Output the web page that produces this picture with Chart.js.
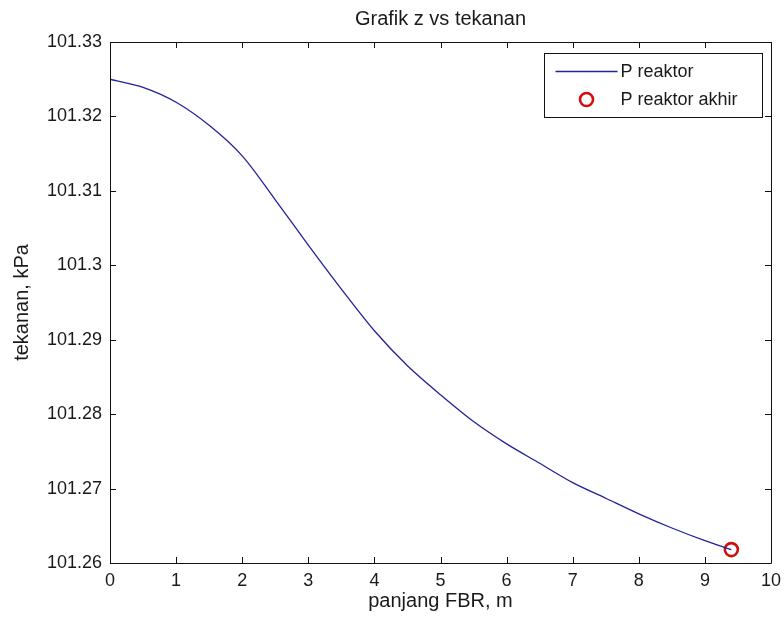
<!DOCTYPE html>
<html>
<head>
<meta charset="utf-8">
<script src="https://cdn.jsdelivr.net/npm/chart.js@4/dist/chart.umd.min.js"></script>
<style>
  html, body { margin: 0; padding: 0; background: #fff; }
  #wrap { width: 784px; height: 625px; }
</style>
</head>
<body>
<div id="wrap"><canvas id="c" width="784" height="625"></canvas></div>
<script>
const positionZ = [0, 0.5, 1, 1.5, 2, 2.5, 3, 3.5, 4, 4.5, 5, 5.5, 6, 6.5, 7, 7.5, 8, 8.5, 9, 9.4];
const pressureReactor = [101.3250, 101.3239, 101.3219, 101.3188, 101.3147, 101.3088, 101.3027, 101.2968, 101.2912, 101.2865, 101.2826, 101.2790, 101.2760, 101.2734, 101.2708, 101.2687, 101.2666, 101.2647, 101.2630, 101.2618];
const finalPosition = [9.4];
const finalPressure = [101.2618];
const xTicks = [0, 1, 2, 3, 4, 5, 6, 7, 8, 9, 10];
const yTicks = [101.26, 101.27, 101.28, 101.29, 101.30, 101.31, 101.32, 101.33];
const chartTitle = 'Grafik z vs tekanan';

const FONT = "'Liberation Sans', Arial, sans-serif";
const TXT = '#1a1a1a';

const lineData = positionZ.map((x, i) => ({ x: x, y: pressureReactor[i] }));
const endData = finalPosition.map((x, i) => ({ x: x, y: finalPressure[i] }));

const boxPlugin = {
  id: 'matlabBox',
  afterDatasetsDraw(chart) {
    const { ctx, chartArea: a, scales } = chart;
    const tl = 6;
    ctx.save();
    ctx.fillStyle = TXT;
    ctx.font = '20px ' + FONT;
    ctx.textAlign = 'center';
    ctx.textBaseline = 'middle';
    ctx.fillText(chartTitle, (a.left + a.right) / 2, a.top - 23);

    ctx.strokeStyle = '#111';
    ctx.lineWidth = 1;
    ctx.beginPath();
    ctx.rect(Math.round(a.left) + 0.5, Math.round(a.top) + 0.5, Math.round(a.right - a.left), Math.round(a.bottom - a.top));
    ctx.stroke();
    ctx.beginPath();
    xTicks.forEach(v => {
      const px = Math.round(scales.x.getPixelForValue(v)) + 0.5;
      ctx.moveTo(px, a.bottom); ctx.lineTo(px, a.bottom - tl);
      ctx.moveTo(px, a.top); ctx.lineTo(px, a.top + tl);
    });
    yTicks.forEach(v => {
      const py = Math.round(scales.y.getPixelForValue(v)) + 0.5;
      ctx.moveTo(a.left, py); ctx.lineTo(a.left + tl, py);
      ctx.moveTo(a.right, py); ctx.lineTo(a.right - tl, py);
    });
    ctx.stroke();

    const lx = Math.round(a.right - 227) + 0.5, ly = Math.round(a.top + 11) + 0.5;
    const lw = 218, lh = 64;
    ctx.fillStyle = '#fff';
    ctx.fillRect(lx, ly, lw, lh);
    ctx.strokeStyle = '#111';
    ctx.strokeRect(lx, ly, lw, lh);
    const ds = chart.data.datasets;
    const r1 = ly + 18, r2 = ly + 46;
    ctx.strokeStyle = ds[0].borderColor;
    ctx.lineWidth = 1.3;
    ctx.beginPath();
    ctx.moveTo(lx + 11, r1); ctx.lineTo(lx + 73, r1);
    ctx.stroke();
    ctx.strokeStyle = ds[1].borderColor;
    ctx.lineWidth = ds[1].borderWidth;
    ctx.beginPath();
    ctx.arc(lx + 42, r2, ds[1].pointRadius, 0, Math.PI * 2);
    ctx.stroke();
    ctx.fillStyle = TXT;
    ctx.font = '18px ' + FONT;
    ctx.textBaseline = 'middle';
    ctx.textAlign = 'left';
    ctx.fillText(ds[0].label, lx + 76, r1 + 1);
    ctx.fillText(ds[1].label, lx + 76, r2 + 1);
    ctx.restore();
  }
};

new Chart(document.getElementById('c'), {
  type: 'scatter',
  data: {
    datasets: [
      {
        label: 'P reaktor',
        data: lineData,
        showLine: true,
        borderColor: '#22229a',
        borderWidth: 1.3,
        pointRadius: 0,
        tension: 0.3,
        fill: false
      },
      {
        label: 'P reaktor akhir',
        data: endData,
        showLine: false,
        borderColor: '#d01010',
        backgroundColor: 'rgba(0,0,0,0)',
        borderWidth: 2.6,
        pointRadius: 6.5,
        pointStyle: 'circle'
      }
    ]
  },
  options: {
    responsive: false,
    animation: false,
    devicePixelRatio: 1,
    layout: { padding: { left: 0, right: 13, top: 42, bottom: 0 } },
    plugins: {
      legend: { display: false },
      tooltip: { enabled: false },
      title: { display: false }
    },
    scales: {
      x: {
        type: 'linear',
        min: 0, max: 10,
        afterFit(s) { s.height = 62; s.paddingRight = 0; s.paddingLeft = 0; },
        afterBuildTicks(s) { s.ticks = xTicks.map(v => ({ value: v })); },
        grid: { display: false, drawTicks: false },
        border: { display: false },
        ticks: {
          color: TXT, padding: 7, maxRotation: 0,
          font: { family: FONT, size: 18 },
          callback: v => String(v)
        },
        title: {
          display: true, text: 'panjang FBR, m', color: TXT,
          font: { family: FONT, size: 20 },
          padding: { top: 0, bottom: 12 }
        }
      },
      y: {
        type: 'linear',
        min: 101.26, max: 101.33,
        afterFit(s) { s.width = 110; },
        afterBuildTicks(s) { s.ticks = yTicks.map(v => ({ value: v })); },
        grid: { display: false, drawTicks: false },
        border: { display: false },
        ticks: {
          color: TXT, padding: 8,
          font: { family: FONT, size: 18 },
          callback: v => String(Number(v.toFixed(2)))
        },
        title: {
          display: true, text: 'tekanan, kPa', color: TXT,
          font: { family: FONT, size: 20 },
          padding: { top: 10, bottom: 0 }
        }
      }
    }
  },
  plugins: [boxPlugin]
});
</script>
</body>
</html>
